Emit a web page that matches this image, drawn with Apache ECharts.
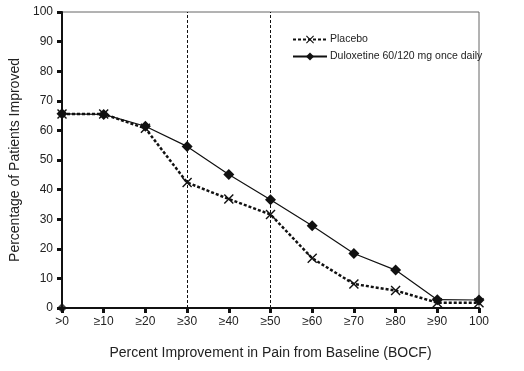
<!DOCTYPE html>
<html><head><meta charset="utf-8">
<script src="https://cdn.jsdelivr.net/npm/echarts@6/dist/echarts.min.js"></script>
<style>html,body{margin:0;padding:0;background:#fff}#c{width:524px;height:371px}</style>
</head><body><div id="c"></div>
<script>
const categories = ['>0','≥10','≥20','≥30','≥40','≥50','≥60','≥70','≥80','≥90','100'];
const placebo = [65.5, 65.5, 60.7, 42.4, 36.8, 31.6, 16.8, 8.1, 5.9, 1.8, 1.8];
const duloxetine = [65.6, 65.4, 61.4, 54.6, 45.1, 36.6, 27.8, 18.4, 12.8, 2.8, 2.7];
const originPoint = [0];
const refLines = ['≥30', '≥50'];
const yTicks = [0, 100, 10];

const crossPath = 'path://M1,0L5,4L9,0L10,1L6,5L10,9L9,10L5,6L1,10L0,9L4,5L0,1Z';
const font = 'Liberation Sans, Arial, sans-serif';
const chart = echarts.init(document.getElementById('c'));
chart.setOption({
  animation: false,
  backgroundColor: '#fff',
  grid: {left: 57, right: 45, top: 12, bottom: 63, show: true, borderColor: '#666', borderWidth: 1},
  legend: {
    orient: 'vertical', left: 288, top: 32, itemGap: 6, itemWidth: 34, itemHeight: 10,
    padding: [2, 4],
    textStyle: {fontFamily: font, fontSize: 10.5, color: '#222', padding: [0, 0, 0, -2]},
    data: ['Placebo', 'Duloxetine 60/120 mg once daily']
  },
  xAxis: {
    type: 'category', data: categories, boundaryGap: false,
    name: 'Percent Improvement in Pain from Baseline (BOCF)', nameLocation: 'middle', nameGap: 38,
    nameTextStyle: {fontFamily: font, fontSize: 14, color: '#222'},
    axisLine: {lineStyle: {color: '#111', width: 2}},
    axisTick: {alignWithLabel: true, length: 5, lineStyle: {width: 3, color: '#111'}},
    axisLabel: {fontFamily: font, fontSize: 12, color: '#222', margin: 8},
    splitLine: {show: false}
  },
  yAxis: {
    type: 'value', min: yTicks[0], max: yTicks[1], interval: yTicks[2],
    name: 'Percentage of Patients Improved', nameLocation: 'middle', nameGap: 40, nameRotate: 90,
    nameTextStyle: {fontFamily: font, fontSize: 14, color: '#222'},
    axisLine: {show: true, lineStyle: {color: '#111', width: 2}},
    axisTick: {show: true, length: 5, lineStyle: {width: 3, color: '#111'}},
    axisLabel: {fontFamily: font, fontSize: 12, color: '#222', margin: 9},
    splitLine: {show: false}
  },
  series: [
    {
      name: 'Placebo', type: 'line', data: placebo,
      symbol: crossPath, symbolSize: 10, z: 3,
      lineStyle: {color: '#111', width: 2.5, type: [3, 2]},
      itemStyle: {color: '#111'},
      markLine: {
        silent: true, symbol: 'none', label: {show: false},
        lineStyle: {color: '#111', width: 1, type: [3, 2]},
        data: refLines.map(c => ({xAxis: c}))
      }
    },
    {
      name: 'Duloxetine 60/120 mg once daily', type: 'line', data: duloxetine,
      symbol: 'diamond', symbolSize: 11, z: 4,
      lineStyle: {color: '#111', width: 1.2, type: 'solid'},
      itemStyle: {color: '#111'}
    },
    {
      name: 'origin', type: 'scatter', data: originPoint.map(v => [categories[0], v]),
      symbol: 'diamond', symbolSize: 10, itemStyle: {color: '#111'}, z: 5
    }
  ]
});
</script></body></html>
